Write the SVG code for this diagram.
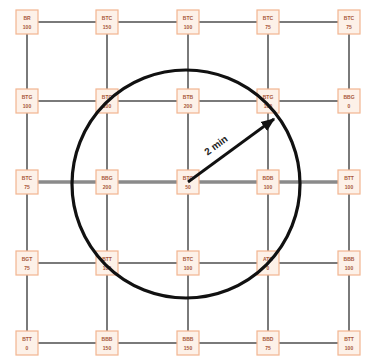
<svg xmlns="http://www.w3.org/2000/svg" width="371" height="358" viewBox="0 0 371 358">
<defs>
<style>
.ln{stroke:#7a7a7a;stroke-width:2;fill:none}
.lm{stroke:#8a8a8a;stroke-width:3.5;fill:none}
.bx{fill:#fdf1e8;stroke:#f2b590;stroke-width:1.2}
.tx{font-family:"Liberation Sans",Arial,sans-serif;font-size:5px;font-weight:bold;fill:#a8583a;text-anchor:middle}
</style>
<marker id="ah" viewBox="0 0 10 10" refX="9" refY="5" markerWidth="5" markerHeight="5" orient="auto">
<path d="M0,1 L10,5 L0,9 z" fill="#111"/>
</marker>
</defs>
<rect width="371" height="358" fill="#fff"/>
<g id="connectors">
<line class="ln" x1="27" y1="22" x2="349" y2="22"/>
<line class="ln" x1="27" y1="101" x2="349" y2="101"/>
<line class="lm" x1="27" y1="182" x2="349" y2="182"/>
<line class="ln" x1="27" y1="263" x2="349" y2="263"/>
<line class="ln" x1="27" y1="343" x2="349" y2="343"/>
<line class="ln" x1="27" y1="22" x2="27" y2="343"/>
<line class="ln" x1="107" y1="22" x2="107" y2="343"/>
<line class="ln" x1="188" y1="22" x2="188" y2="343"/>
<line class="ln" x1="268" y1="22" x2="268" y2="343"/>
<line class="ln" x1="349" y1="22" x2="349" y2="343"/>
</g>
<g id="n11"><rect class="bx" x="16" y="10" width="22" height="24"/><text class="tx" x="27" y="20">BR</text><text class="tx" x="27" y="29">100</text></g>
<g id="n12"><rect class="bx" x="96" y="10" width="22" height="24"/><text class="tx" x="107" y="20">BTC</text><text class="tx" x="107" y="29">150</text></g>
<g id="n13"><rect class="bx" x="177" y="10" width="22" height="24"/><text class="tx" x="188" y="20">BTC</text><text class="tx" x="188" y="29">100</text></g>
<g id="n14"><rect class="bx" x="257" y="10" width="22" height="24"/><text class="tx" x="268" y="20">BTC</text><text class="tx" x="268" y="29">75</text></g>
<g id="n15"><rect class="bx" x="338" y="10" width="22" height="24"/><text class="tx" x="349" y="20">BTC</text><text class="tx" x="349" y="29">75</text></g>
<g id="n21"><rect class="bx" x="16" y="89" width="22" height="24"/><text class="tx" x="27" y="99">BTG</text><text class="tx" x="27" y="108">100</text></g>
<g id="n22"><rect class="bx" x="96" y="89" width="22" height="24"/><text class="tx" x="107" y="99">BTC</text><text class="tx" x="107" y="108">100</text></g>
<g id="n23"><rect class="bx" x="177" y="89" width="22" height="24"/><text class="tx" x="188" y="99">BTB</text><text class="tx" x="188" y="108">200</text></g>
<g id="n24"><rect class="bx" x="257" y="89" width="22" height="24"/><text class="tx" x="268" y="99">BTG</text><text class="tx" x="268" y="108">100</text></g>
<g id="n25"><rect class="bx" x="338" y="89" width="22" height="24"/><text class="tx" x="349" y="99">BBG</text><text class="tx" x="349" y="108">0</text></g>
<g id="n31"><rect class="bx" x="16" y="170" width="22" height="24"/><text class="tx" x="27" y="180">BTC</text><text class="tx" x="27" y="189">75</text></g>
<g id="n32"><rect class="bx" x="96" y="170" width="22" height="24"/><text class="tx" x="107" y="180">BBG</text><text class="tx" x="107" y="189">200</text></g>
<g id="n33"><rect class="bx" x="177" y="170" width="22" height="24"/><text class="tx" x="188" y="180">BTC</text><text class="tx" x="188" y="189">50</text></g>
<g id="n34"><rect class="bx" x="257" y="170" width="22" height="24"/><text class="tx" x="268" y="180">BDB</text><text class="tx" x="268" y="189">100</text></g>
<g id="n35"><rect class="bx" x="338" y="170" width="22" height="24"/><text class="tx" x="349" y="180">BTT</text><text class="tx" x="349" y="189">100</text></g>
<g id="n41"><rect class="bx" x="16" y="251" width="22" height="24"/><text class="tx" x="27" y="261">BGT</text><text class="tx" x="27" y="270">75</text></g>
<g id="n42"><rect class="bx" x="96" y="251" width="22" height="24"/><text class="tx" x="107" y="261">BTT</text><text class="tx" x="107" y="270">100</text></g>
<g id="n43"><rect class="bx" x="177" y="251" width="22" height="24"/><text class="tx" x="188" y="261">BTC</text><text class="tx" x="188" y="270">100</text></g>
<g id="n44"><rect class="bx" x="257" y="251" width="22" height="24"/><text class="tx" x="268" y="261">ATC</text><text class="tx" x="268" y="270">0</text></g>
<g id="n45"><rect class="bx" x="338" y="251" width="22" height="24"/><text class="tx" x="349" y="261">BBB</text><text class="tx" x="349" y="270">100</text></g>
<g id="n51"><rect class="bx" x="16" y="331" width="22" height="24"/><text class="tx" x="27" y="341">BTT</text><text class="tx" x="27" y="350">0</text></g>
<g id="n52"><rect class="bx" x="96" y="331" width="22" height="24"/><text class="tx" x="107" y="341">BBB</text><text class="tx" x="107" y="350">150</text></g>
<g id="n53"><rect class="bx" x="177" y="331" width="22" height="24"/><text class="tx" x="188" y="341">BBB</text><text class="tx" x="188" y="350">150</text></g>
<g id="n54"><rect class="bx" x="257" y="331" width="22" height="24"/><text class="tx" x="268" y="341">BBD</text><text class="tx" x="268" y="350">75</text></g>
<g id="n55"><rect class="bx" x="338" y="331" width="22" height="24"/><text class="tx" x="349" y="341">BTT</text><text class="tx" x="349" y="350">100</text></g>
<g id="range">
<circle cx="186" cy="184" r="114" fill="none" stroke="#111" stroke-width="3.2"/>
<line x1="188" y1="182" x2="274" y2="119" stroke="#111" stroke-width="2.8" marker-end="url(#ah)"/>
<text x="218" y="148" transform="rotate(-36 218 148)" font-family="Liberation Sans,Arial,sans-serif" font-size="10" font-weight="bold" fill="#222" text-anchor="middle">2 min</text>
</g>
</svg>
